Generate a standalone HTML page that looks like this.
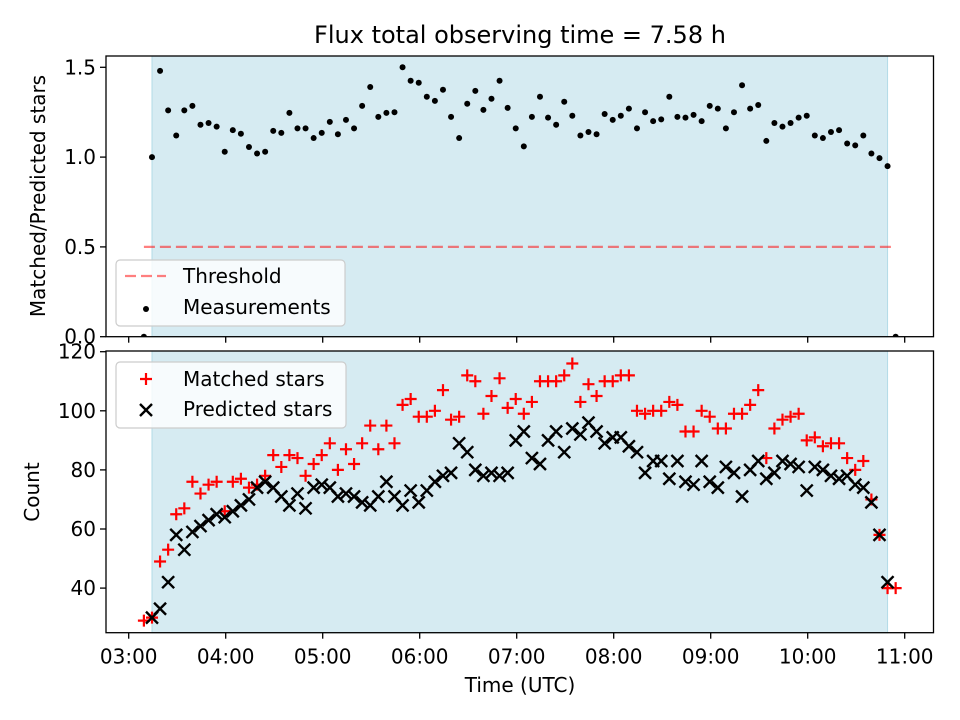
<!DOCTYPE html>
<html><head><meta charset="utf-8"><style>
html,body{margin:0;padding:0;background:#fff;}
svg{display:block;font-family:"DejaVu Sans","Liberation Sans",sans-serif;}
</style></head><body>
<svg id="chart" width="960" height="720" viewBox="0 0 960 720" xmlns="http://www.w3.org/2000/svg">
<defs>
<clipPath id="clipTop"><rect x="106" y="56" width="828" height="281"/></clipPath>
<clipPath id="clipBot"><rect x="106" y="351" width="828" height="282"/></clipPath>
</defs>
<rect width="960" height="720" fill="#fff"/>
<text x="520" y="43" font-size="24" text-anchor="middle" fill="#000">Flux total observing time = 7.58 h</text>
<g id="top"></g>
<g id="bot"></g>
<text transform="translate(45,196) rotate(-90)" font-size="20" text-anchor="middle" fill="#000">Matched/Predicted stars</text>
<text transform="translate(39,492) rotate(-90)" font-size="20" text-anchor="middle" fill="#000">Count</text>
<text x="520" y="692" font-size="20" text-anchor="middle" fill="#000">Time (UTC)</text>
</svg>
<script>
// minutes after 03:00 UTC
const times = [9.4,14.4,19.4,24.4,29.4,34.4,39.4,44.4,49.4,54.4,59.4,64.4,69.4,74.4,79.4,84.4,89.4,94.4,99.4,104.4,109.4,114.4,119.4,124.4,129.4,134.4,139.4,144.4,149.4,154.4,159.4,164.4,169.4,174.4,179.4,184.4,189.4,194.4,199.4,204.4,209.4,214.4,219.4,224.4,229.4,234.4,239.4,244.4,249.4,254.4,259.4,264.4,269.4,274.4,279.4,284.4,289.4,294.4,299.4,304.4,309.4,314.4,319.4,324.4,329.4,334.4,339.4,344.4,349.4,354.4,359.4,364.4,369.4,374.4,379.4,384.4,389.4,394.4,399.4,404.4,409.4,414.4,419.4,424.4,429.4,434.4,439.4,444.4,449.4,454.4,459.4,464.4,469.4,474.4];
const ratio = [0,1.00,1.48,1.26,1.12,1.26,1.285,1.18,1.19,1.17,1.03,1.15,1.13,1.056,1.02,1.03,1.146,1.135,1.246,1.16,1.16,1.106,1.135,1.196,1.127,1.207,1.16,1.285,1.39,1.224,1.246,1.25,1.50,1.425,1.414,1.336,1.313,1.375,1.224,1.106,1.297,1.369,1.263,1.325,1.425,1.274,1.16,1.06,1.224,1.336,1.22,1.18,1.308,1.23,1.12,1.14,1.127,1.24,1.207,1.23,1.27,1.16,1.25,1.20,1.21,1.336,1.224,1.22,1.235,1.20,1.285,1.27,1.16,1.25,1.40,1.27,1.29,1.09,1.19,1.17,1.19,1.22,1.23,1.12,1.106,1.14,1.15,1.076,1.065,1.12,1.02,0.994,0.95,0];
const matched = [29,30,49,53,65,67,76,72,75,76,66,76,77,74,75,78,85,81,85,84,78,82,85,89,80,87,82,89,95,87,95,89,102,104,98,98,100,107,97,98,112,110,99,105,111,101,104,99,103,110,110,110,112,116,103,109,105,110,110,112,112,100,99,100,100,103,102,93,93,100,98,94,94,99,99,102,107,84,94,97,98,99,90,91,88,89,89,84,80,83,70,58,40,40];
const predicted = [null,30,33,42,58,53,59,61,63,65,64,66,68,70,74,76,74,71,68,72,67,74,75,74,71,72,71,69,68,71,76,71,68,73,69,73,76,78,79,89,86,80,78,79,78,79,90,93,84,82,90,93,86,94,92,96,93,89,91,91,88,86,79,83,83,77,83,76,75,83,76,74,81,79,71,80,83,77,79,83,82,81,73,81,80,78,77,78,75,74,69,58,42,null];
const threshold = 0.5;
const xTickMinutes = [0,60,120,180,240,300,360,420,480];
const xTickLabels = ["03:00","04:00","05:00","06:00","07:00","08:00","09:00","10:00","11:00"];
const topTicks = [0.0,0.5,1.0,1.5];
const topTickLabels = ["0.0","0.5","1.0","1.5"];
const botTicks = [40,60,80,100,120];
const botTickLabels = ["40","60","80","100","120"];
const spanStart = 14.4, spanEnd = 469.4;

const NS = "http://www.w3.org/2000/svg";
function mk(tag, attrs, parent){ const e=document.createElementNS(NS,tag); for(const k in attrs) e.setAttribute(k,attrs[k]); if(parent) parent.appendChild(e); return e; }
const L=106, R=933.5;
function xs(m){ return 128.7 + m*97/60; }
function yTop(v){ return 336.7 - v*179.6; }
function yBot(v){ return 351.7 + (120 - v)*2.955; }

function axesFrame(g, y0, y1, name){
  // span
  const s = mk('rect',{x:xs(spanStart),y:y0,width:xs(spanEnd)-xs(spanStart),height:y1-y0,fill:'rgba(173,216,230,0.5)',stroke:'rgba(173,216,230,0.9)','stroke-width':1},g);
  
  
}
function frame(g,y0,y1,name,withLabels){
  const f = mk('rect',{x:L,y:y0,width:R-L,height:y1-y0,fill:'none',stroke:'#000','stroke-width':1.3},g);
  
  
  xTickMinutes.forEach((m,i)=>{
    const t = mk('line',{x1:xs(m),x2:xs(m),y1:y1,y2:y1+6,stroke:'#000','stroke-width':1.3},g);
    
    
    if(withLabels){
      const tx = mk('text',{x:xs(m),y:y1+31,'font-size':20,'text-anchor':'middle',fill:'#000'},g);
      tx.textContent = xTickLabels[i];
      
      
    }
  });
}

// TOP
const gt = document.getElementById('top');
axesFrame(gt,56,336.7,'top');
const gtc = mk('g',{'clip-path':'url(#clipTop)'},gt);
const th = mk('line',{x1:xs(times[0]),x2:xs(times[times.length-1]),y1:yTop(threshold),y2:yTop(threshold),stroke:'rgba(255,0,0,0.5)','stroke-width':2.2,'stroke-dasharray':'11,5'},gtc);


ratio.forEach((v,i)=>{
  const c = mk('circle',{cx:xs(times[i]),cy:yTop(v),r:3,fill:'#000'},gtc);
  
  
});
frame(gt,56,336.7,'top',false);
topTicks.forEach((v,i)=>{
  mk('line',{x1:L-6,x2:L,y1:yTop(v),y2:yTop(v),stroke:'#000','stroke-width':1.3},gt);
  const t = mk('text',{x:L-10,y:yTop(v)+7,'font-size':20,'text-anchor':'end',fill:'#000'},gt);
  t.textContent = topTickLabels[i];
  
  
});
// top legend
const lg1 = mk('g',{},gt);


mk('rect',{x:116,y:260,width:229,height:66,rx:4,fill:'rgba(255,255,255,0.8)',stroke:'#ccc','stroke-width':1.2},lg1);
mk('line',{x1:125,x2:166,y1:276,y2:276,stroke:'rgba(255,0,0,0.5)','stroke-width':2.2,'stroke-dasharray':'11,5'},lg1);
mk('circle',{cx:146,cy:309,r:3,fill:'#000'},lg1);
const lt1 = mk('text',{x:183,y:283,'font-size':20,fill:'#000'},lg1); lt1.textContent='Threshold';


const lt2 = mk('text',{x:183,y:314,'font-size':20,fill:'#000'},lg1); lt2.textContent='Measurements';



// BOTTOM
const gb = document.getElementById('bot');
axesFrame(gb,351,632.7,'bottom');
const gbc = mk('g',{'clip-path':'url(#clipBot)'},gb);
function plus(g,x,y,name){
  const p = mk('path',{d:`M${x-6},${y}H${x+6}M${x},${y-6}V${y+6}`,stroke:'#ff0000','stroke-width':2.2,fill:'none'},g);
  
  
}
function cross(g,x,y,name){
  const p = mk('path',{d:`M${x-6},${y-6}L${x+6},${y+6}M${x-6},${y+6}L${x+6},${y-6}`,stroke:'#000','stroke-width':2.4,fill:'none'},g);
  
  
}
matched.forEach((v,i)=>{ if(v!==null) plus(gbc,xs(times[i]),yBot(v),'matched-point'); });
predicted.forEach((v,i)=>{ if(v!==null) cross(gbc,xs(times[i]),yBot(v),'predicted-point'); });
frame(gb,351,632.7,'bottom',true);
botTicks.forEach((v,i)=>{
  mk('line',{x1:L-6,x2:L,y1:yBot(v),y2:yBot(v),stroke:'#000','stroke-width':1.3},gb);
  const t = mk('text',{x:L-10,y:yBot(v)+7,'font-size':20,'text-anchor':'end',fill:'#000'},gb);
  t.textContent = botTickLabels[i];
  
  
});
const lg2 = mk('g',{},gb);


mk('rect',{x:116,y:362,width:230,height:66,rx:4,fill:'rgba(255,255,255,0.8)',stroke:'#ccc','stroke-width':1.2},lg2);
plus(lg2,146,379,'legend-matched-marker');
cross(lg2,146,410,'legend-predicted-marker');
const lt3 = mk('text',{x:183,y:386,'font-size':20,fill:'#000'},lg2); lt3.textContent='Matched stars';


const lt4 = mk('text',{x:183,y:416,'font-size':20,fill:'#000'},lg2); lt4.textContent='Predicted stars';


</script>
</body></html>
